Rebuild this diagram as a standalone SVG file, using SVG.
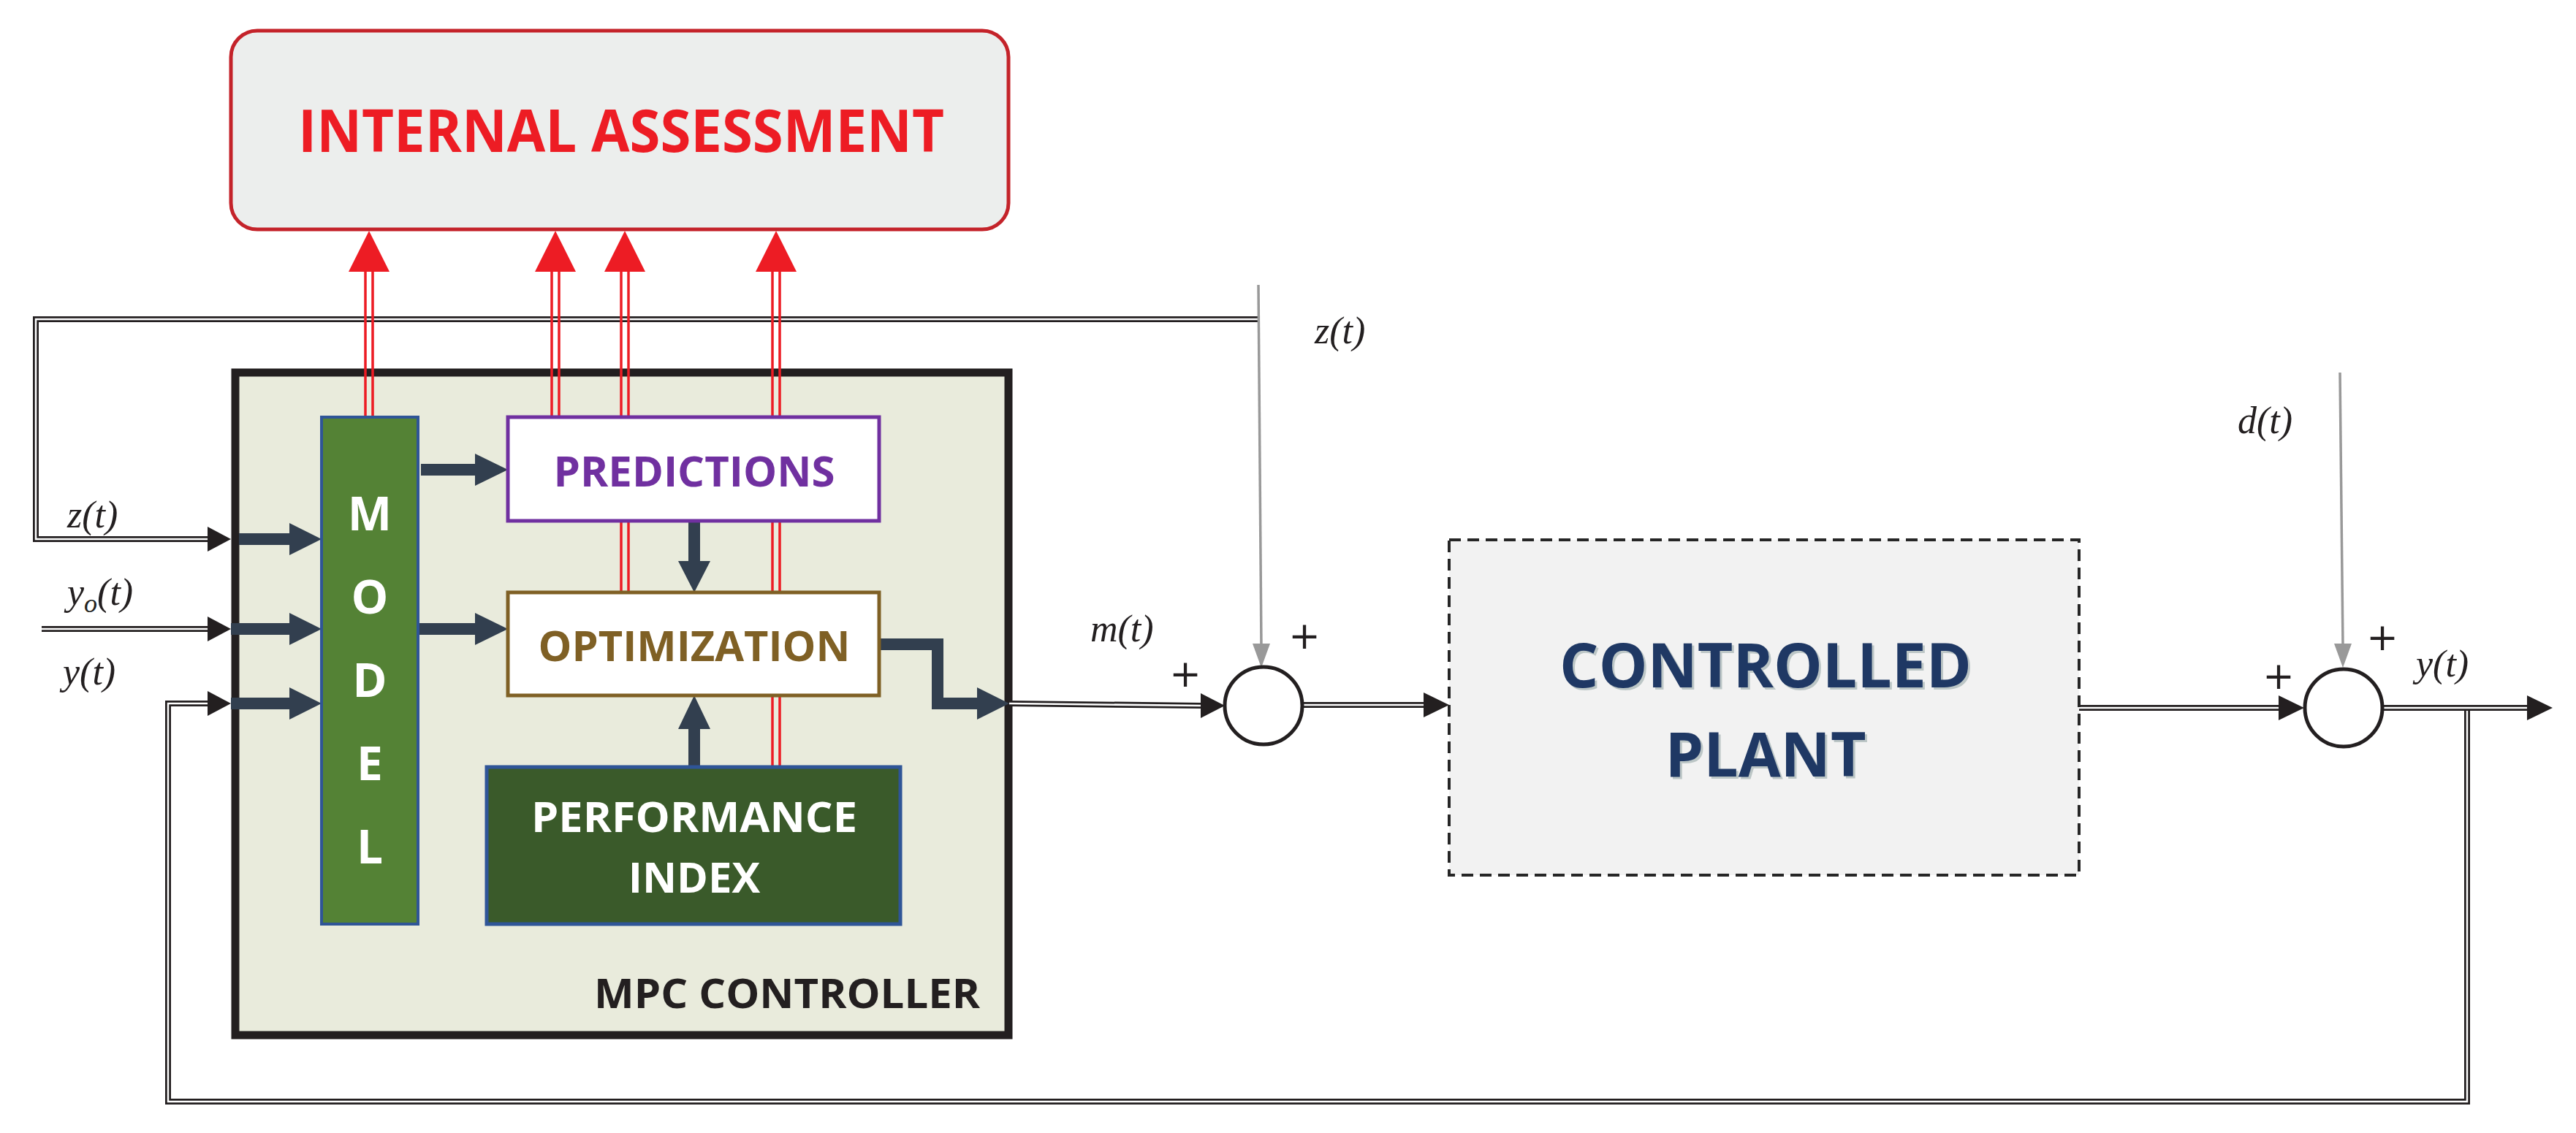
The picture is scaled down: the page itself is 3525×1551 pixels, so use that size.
<svg xmlns="http://www.w3.org/2000/svg" width="3525" height="1551" viewBox="0 0 3525 1551">
<style>
.sans{font-family:"Open Sans","Liberation Sans",sans-serif;font-weight:bold}
.it{font-family:"Liberation Serif",serif;font-style:italic;font-size:52px;fill:#231f20}
.dblo{fill:none;stroke:#231f20;stroke-width:8}
.dbli{fill:none;stroke:#fff;stroke-width:2.5}
.red{fill:none;stroke:#ed1c24;stroke-width:3.5}
.bar{fill:none;stroke:#323f4f;stroke-width:16}
.gray{fill:none;stroke:#999;stroke-width:3.5}
.pl{font-family:"DejaVu Sans",sans-serif;font-size:52px;fill:#231f20}
</style>
<rect width="3525" height="1551" fill="#fff"/>

<g id="internal_assessment">
<rect x="316" y="42" width="1064" height="272" rx="36" fill="#eceeed" stroke="#c4232a" stroke-width="5"/>
<text class="sans" x="850" y="208" font-size="80" fill="#ed1c24" text-anchor="middle" textLength="884" lengthAdjust="spacingAndGlyphs">INTERNAL ASSESSMENT</text>
</g>

<g id="mpc_controller">
<rect x="322" y="510" width="1058" height="907" fill="#e9ebdc" stroke="#231f20" stroke-width="11"/>
<text class="sans" x="1341" y="1380" font-size="56" fill="#231f20" text-anchor="end" textLength="528" lengthAdjust="spacingAndGlyphs">MPC CONTROLLER</text>
</g>

<g id="connectors">
<!-- z feedback loop -->
<path class="dblo" d="M1722 437 H49 V738 H290"/>
<path class="dbli" d="M1722 437 H49 V738 H290"/>
<polygon points="284,721 316,738 284,755" fill="#231f20"/>
<!-- y0 input -->
<path class="dblo" d="M57 861 H290"/>
<path class="dbli" d="M57 861 H290"/>
<polygon points="284,844 316,861 284,878" fill="#231f20"/>
<!-- y feedback -->
<path class="dblo" d="M3376 969 V1508 H230 V963 H290"/>
<path class="dbli" d="M3376 969 V1508 H230 V963 H290"/>
<polygon points="284,946 316,963 284,980" fill="#231f20"/>
<!-- m(t) to junction 1 -->
<path class="dblo" d="M1381 963 L1645 966"/>
<path class="dbli" d="M1381 963 L1645 966"/>
<polygon points="1643,949 1676,966 1643,983" fill="#231f20"/>
<!-- junction1 to plant -->
<path class="dblo" d="M1781 965 H1950"/>
<path class="dbli" d="M1781 965 H1950"/>
<polygon points="1948,948 1983,965 1948,982" fill="#231f20"/>
<!-- plant to junction 2 -->
<path class="dblo" d="M2845 969 H3120"/>
<path class="dbli" d="M2845 969 H3120"/>
<polygon points="3118,952 3153,969 3118,986" fill="#231f20"/>
<!-- output -->
<path class="dblo" d="M3261 969 H3460"/>
<path class="dbli" d="M3261 969 H3460"/>
<polygon points="3458,952 3493,969 3458,986" fill="#231f20"/>
<!-- gray z(t) and d(t) -->
<path class="gray" d="M1722 390 L1726 885"/>
<polygon points="1714,881 1738,881 1726,914" fill="#999"/>
<path class="gray" d="M3202 510 L3206 885"/>
<polygon points="3194,881 3218,881 3206,914" fill="#999"/>
<!-- red arrows -->
<g>
<path class="red" d="M500 370 V571 M510 370 V571"/>
<polygon points="505,316 477,372 533,372" fill="#ed1c24"/>
<path class="red" d="M755 370 V571 M765 370 V571"/>
<polygon points="760,316 732,372 788,372" fill="#ed1c24"/>
<path class="red" d="M850 370 V811 M860 370 V811"/>
<polygon points="855,316 827,372 883,372" fill="#ed1c24"/>
<path class="red" d="M1057 370 V1050 M1067 370 V1050"/>
<polygon points="1062,316 1034,372 1090,372" fill="#ed1c24"/>
</g>
<!-- dark bars -->
<path class="bar" d="M327 738 H400"/>
<polygon points="396,716 440,738 396,760" fill="#323f4f"/>
<path class="bar" d="M316 861 H400"/>
<polygon points="396,839 440,861 396,883" fill="#323f4f"/>
<path class="bar" d="M316 963 H400"/>
<polygon points="396,941 440,963 396,985" fill="#323f4f"/>
<path class="bar" d="M576 643 H652"/>
<polygon points="650,621 695,643 650,665" fill="#323f4f"/>
<path class="bar" d="M572 861 H652"/>
<polygon points="650,839 695,861 650,883" fill="#323f4f"/>
<path class="bar" d="M950 713 V770"/>
<polygon points="928,768 972,768 950,811" fill="#323f4f"/>
<path class="bar" d="M950 1050 V995"/>
<polygon points="928,998 972,998 950,952" fill="#323f4f"/>
<path class="bar" d="M1203 882 H1283 V963 H1340"/>
<polygon points="1337,941 1381,963 1337,985" fill="#323f4f"/>
</g>

<g id="model">
<rect x="440" y="571" width="132" height="694" fill="#548235" stroke="#2f5597" stroke-width="4"/>
<g class="sans" font-size="64" fill="#fff" text-anchor="middle">
<text x="506" y="726">M</text><text x="506" y="840">O</text><text x="506" y="954">D</text><text x="506" y="1068">E</text><text x="506" y="1182">L</text>
</g>
</g>

<g id="predictions">
<rect x="695" y="571" width="508" height="142" fill="#fff" stroke="#7030a0" stroke-width="5"/>
<text class="sans" x="950" y="666" font-size="58" fill="#7030a0" text-anchor="middle" textLength="385" lengthAdjust="spacingAndGlyphs">PREDICTIONS</text>
</g>

<g id="optimization">
<rect x="695" y="811" width="508" height="141" fill="#fff" stroke="#7f6025" stroke-width="5"/>
<text class="sans" x="950" y="905" font-size="58" fill="#7f6025" text-anchor="middle" textLength="427" lengthAdjust="spacingAndGlyphs">OPTIMIZATION</text>
</g>

<g id="performance_index">
<rect x="666" y="1050" width="566" height="215" fill="#3a5a2a" stroke="#2f5597" stroke-width="5"/>
<text class="sans" x="950" y="1139" font-size="58" fill="#fff" text-anchor="middle" textLength="446" lengthAdjust="spacingAndGlyphs">PERFORMANCE</text>
<text class="sans" x="950" y="1222" font-size="58" fill="#fff" text-anchor="middle">INDEX</text>
</g>

<g id="junction1">
<circle cx="1729" cy="966" r="53" fill="#fff" stroke="#231f20" stroke-width="5"/>
<text class="pl" x="1622" y="940" text-anchor="middle">+</text>
<text class="pl" x="1785" y="888" text-anchor="middle">+</text>
</g>

<g id="controlled_plant">
<rect x="1983" y="739" width="862" height="459" fill="#f2f2f2" stroke="#262626" stroke-width="4" stroke-dasharray="16,9"/>
<g class="sans" font-size="84" fill="#1f3864" text-anchor="middle">
<text x="2419" y="944" fill="#9aa" opacity="0.6">CONTROLLED</text>
<text x="2416" y="941">CONTROLLED</text>
<text x="2419" y="1066" fill="#9aa" opacity="0.6">PLANT</text>
<text x="2416" y="1063">PLANT</text>
</g>
</g>

<g id="junction2">
<circle cx="3207" cy="969" r="53" fill="#fff" stroke="#231f20" stroke-width="5"/>
<text class="pl" x="3118" y="943" text-anchor="middle">+</text>
<text class="pl" x="3260" y="890" text-anchor="middle">+</text>
</g>

<g id="labels">
<text class="it" x="92" y="722">z(t)</text>
<text class="it" x="92" y="828">y<tspan font-size="36" dy="10">o</tspan><tspan dy="-10">(t)</tspan></text>
<text class="it" x="86" y="937">y(t)</text>
<text class="it" x="1492" y="878">m(t)</text>
<text class="it" x="1799" y="470">z(t)</text>
<text class="it" x="3062" y="593">d(t)</text>
<text class="it" x="3306" y="926">y(t)</text>
</g>
</svg>
